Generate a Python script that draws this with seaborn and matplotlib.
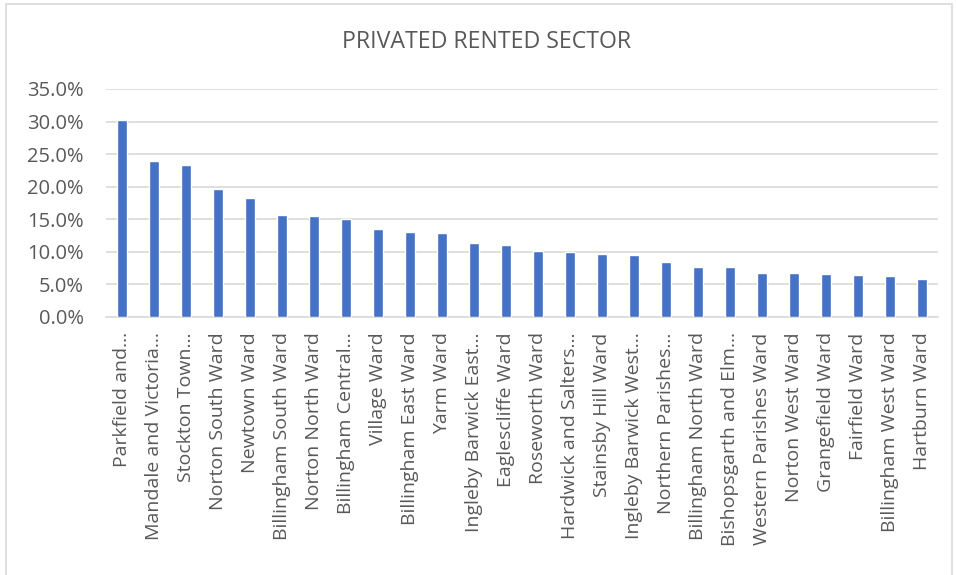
import matplotlib
matplotlib.use("Agg")
import matplotlib.pyplot as plt
import seaborn as sns
import pandas as pd
from matplotlib.ticker import FuncFormatter, MultipleLocator
from matplotlib.patches import Rectangle

wards = [
    "Parkfield and…", "Mandale and Victoria…", "Stockton Town…", "Norton South Ward",
    "Newtown Ward", "Billingham South Ward", "Norton North Ward", "Billingham Central…",
    "Village Ward", "Billingham East Ward", "Yarm Ward", "Ingleby Barwick East…",
    "Eaglescliffe Ward", "Roseworth Ward", "Hardwick and Salters…", "Stainsby Hill Ward",
    "Ingleby Barwick West…", "Northern Parishes…", "Billingham North Ward",
    "Bishopsgarth and Elm…", "Western Parishes Ward", "Norton West Ward",
    "Grangefield Ward", "Fairfield Ward", "Billingham West Ward", "Hartburn Ward",
]
share = [
    30.2, 23.9, 23.4, 19.6, 18.2, 15.6, 15.5, 15.1, 13.5, 13.0, 12.9, 11.3, 11.1,
    10.1, 10.0, 9.7, 9.5, 8.5, 7.7, 7.6, 6.8, 6.8, 6.6, 6.5, 6.3, 5.8,
]
title = "PRIVATED RENTED SECTOR"

sns.set_theme(style="white")
plt.rcParams["font.family"] = ["Open Sans", "DejaVu Sans"]

df = pd.DataFrame({"ward": wards, "share": share})

fig = plt.figure(figsize=(9.56, 5.75), dpi=100)
ax = fig.add_axes([106/956, 1-317/575, (938-106)/956, (317-89)/575])

sns.barplot(data=df, x="ward", y="share", color="#4472C4", width=0.31,
            saturation=1, ax=ax, zorder=3)

ax.set_ylim(0, 35)
ax.set_xlim(-0.5, len(wards) - 0.5)
ax.yaxis.set_major_locator(MultipleLocator(5))
ax.yaxis.set_major_formatter(FuncFormatter(lambda v, p: f"{v:.1f}%"))
ax.grid(axis="y", color="#D9D9D9", linewidth=1.2, zorder=0)
ax.set_axisbelow(True)
for s in ["top", "right", "left"]:
    ax.spines[s].set_visible(False)
ax.spines["bottom"].set_color("#D9D9D9")
ax.spines["bottom"].set_linewidth(1.2)
ax.set_xlabel("")
ax.set_ylabel("")
ax.tick_params(axis="both", length=0, colors="#595959")
ax.tick_params(axis="x", pad=11, labelsize=14)
ax.tick_params(axis="y", pad=16, labelsize=14.5)
plt.setp(ax.get_xticklabels(), rotation=90, ha="center", va="top")

fig.text(487/956, 1-42/575, title, ha="center", va="center",
         fontsize=16.7, color="#595959")

fig.patches.append(Rectangle((6/956, -0.05), (952-6)/956, 1.05 - 4/575,
                             transform=fig.transFigure, fill=False,
                             edgecolor="#D9D9D9", linewidth=1.2))

fig.savefig("out.png", dpi=100)
